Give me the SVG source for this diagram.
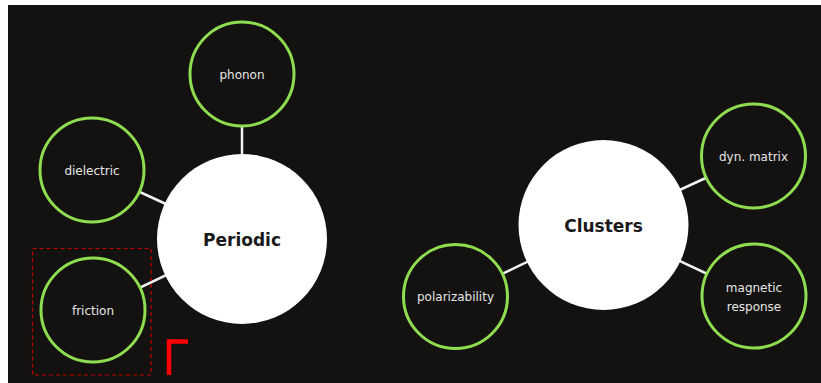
<svg xmlns="http://www.w3.org/2000/svg" width="821" height="383" viewBox="0 0 821 383">
<style>
.leaf{fill:#131210;stroke:#8fdc50;stroke-width:3}
.hub{fill:#ffffff}
.lbl{font-family:"DejaVu Sans",Verdana,sans-serif;font-size:12px;fill:#e6e6e6;text-anchor:middle}
.hlbl{font-family:"DejaVu Sans",Verdana,sans-serif;font-size:17px;font-weight:bold;fill:#1a1a1a;text-anchor:middle}
.conn line{stroke:#f0f0f0;stroke-width:2.5}
</style>
<rect x="0" y="0" width="821" height="383" fill="#ffffff"/>
<rect x="8" y="5" width="813" height="378" fill="#131210"/>
<g id="connectors" class="conn">
<line x1="242" y1="74" x2="242" y2="239"/>
<line x1="92" y1="170" x2="242" y2="239"/>
<line x1="93" y1="310" x2="242" y2="239"/>
<line x1="603.5" y1="225" x2="753.5" y2="156"/>
<line x1="603.5" y1="225" x2="754" y2="296"/>
<line x1="603.5" y1="225" x2="455.5" y2="296.5"/>
</g>
<g id="periodic"><circle class="hub" cx="242" cy="239" r="85"/><text class="hlbl" x="242" y="245.5">Periodic</text></g>
<g id="phonon"><circle class="leaf" cx="242" cy="74" r="52"/><text class="lbl" x="242" y="78.5">phonon</text></g>
<g id="dielectric"><circle class="leaf" cx="92" cy="170" r="52"/><text class="lbl" x="92" y="174.5">dielectric</text></g>
<g id="friction"><circle class="leaf" cx="93" cy="310" r="52"/><text class="lbl" x="93" y="314.5">friction</text></g>
<g id="clusters"><circle class="hub" cx="603.5" cy="225" r="85"/><text class="hlbl" x="603.5" y="231.5">Clusters</text></g>
<g id="dynmatrix"><circle class="leaf" cx="753.5" cy="156" r="52"/><text class="lbl" x="753.5" y="160.5">dyn. matrix</text></g>
<g id="magnetic"><circle class="leaf" cx="754" cy="296" r="52"/><text class="lbl" x="754" y="291.5">magnetic</text><text class="lbl" x="754" y="310.5">response</text></g>
<g id="polarizability"><circle class="leaf" cx="455.5" cy="296.5" r="52"/><text class="lbl" x="455.5" y="301">polarizability</text></g>
<rect x="32.5" y="248.5" width="118.5" height="126.5" fill="none" stroke="#c00000" stroke-width="1.2" stroke-dasharray="4,3"/>
<path d="M169 375 V341.5 H188" fill="none" stroke="#ff0000" stroke-width="4.5"/>
</svg>
